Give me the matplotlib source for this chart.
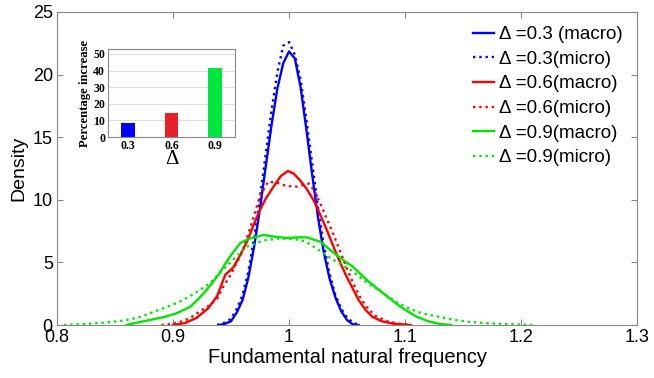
import matplotlib
matplotlib.use("Agg")
import matplotlib.pyplot as plt

plt.rcParams['font.family'] = ['Liberation Sans', 'DejaVu Sans']

# delta = 0.3
x_b_mac = [0.940, 0.945, 0.950, 0.955, 0.960, 0.965, 0.970, 0.975, 0.980, 0.985, 0.990, 0.995, 1.000,
           1.005, 1.010, 1.015, 1.020, 1.025, 1.030, 1.035, 1.040, 1.045, 1.050, 1.055, 1.060]
y_b_mac = [0.0, 0.1, 0.3, 1.0, 2.0, 3.8, 6.3, 9.3, 12.7, 16.0, 18.9, 20.9, 21.85,
           21.3, 19.0, 15.6, 12.0, 8.6, 5.8, 3.7, 2.2, 1.1, 0.4, 0.05, 0.0]
x_b_mic = [0.938, 0.945, 0.950, 0.955, 0.960, 0.965, 0.970, 0.975, 0.980, 0.985, 0.990, 0.995, 1.000,
           1.005, 1.010, 1.015, 1.020, 1.025, 1.030, 1.035, 1.040, 1.045, 1.050, 1.055, 1.060]
y_b_mic = [0.0, 0.2, 0.5, 1.3, 2.4, 4.3, 7.0, 10.2, 13.7, 17.2, 20.2, 22.3, 22.6,
           21.6, 19.6, 16.4, 12.9, 9.4, 6.4, 4.1, 2.4, 1.3, 0.6, 0.2, 0.0]

# delta = 0.6
x_r_mac = [0.900, 0.910, 0.920, 0.930, 0.938, 0.945, 0.952, 0.958, 0.964, 0.970, 0.975, 0.980, 0.987,
           0.993, 0.999, 1.004, 1.010, 1.015, 1.021, 1.027, 1.033, 1.039, 1.045, 1.050, 1.055, 1.060,
           1.066, 1.072, 1.080, 1.090, 1.105]
y_r_mac = [0.0, 0.15, 0.55, 1.3, 2.3, 4.0, 4.6, 5.6, 6.7, 8.1, 9.2, 10.1, 11.1,
           11.9, 12.3, 12.1, 11.5, 10.9, 10.0, 8.8, 7.5, 6.1, 4.8, 3.8, 2.9, 2.0,
           1.2, 0.65, 0.3, 0.1, 0.0]
x_r_mic = [0.890, 0.900, 0.910, 0.917, 0.925, 0.932, 0.938, 0.943, 0.949, 0.955, 0.960, 0.965, 0.970,
           0.975, 0.982, 0.990, 0.998, 1.007, 1.017, 1.022, 1.027, 1.033, 1.038, 1.044, 1.050, 1.056,
           1.062, 1.068, 1.075, 1.085, 1.095, 1.105]
y_r_mic = [0.0, 0.1, 0.35, 0.7, 1.2, 1.6, 2.1, 3.0, 3.9, 5.0, 5.9, 7.3, 8.8,
           10.3, 11.45, 11.35, 11.1, 11.05, 11.3, 10.7, 9.7, 8.4, 7.3, 5.9, 4.5, 3.2,
           2.1, 1.3, 0.7, 0.3, 0.1, 0.0]

# delta = 0.9
x_g_mac = [0.860, 0.866, 0.880, 0.893, 0.903, 0.915, 0.922, 0.929, 0.938, 0.949, 0.958, 0.966, 0.978,
           0.988, 0.998, 1.008, 1.0155, 1.027, 1.038, 1.048, 1.055, 1.067, 1.081, 1.096, 1.110, 1.120,
           1.130, 1.140]
y_g_mac = [0.0, 0.13, 0.4, 0.65, 0.93, 1.46, 2.1, 2.8, 3.86, 5.45, 6.55, 6.9, 7.19,
           7.05, 6.95, 7.0, 7.0, 6.65, 5.8, 5.1, 4.66, 3.6, 2.55, 1.46, 0.66, 0.3,
           0.08, 0.0]
x_g_mic = [0.806, 0.823, 0.840, 0.857, 0.870, 0.880, 0.895, 0.909, 0.920, 0.932, 0.945, 0.9635, 0.978,
           0.990, 1.000, 1.0095, 1.0155, 1.027, 1.040, 1.053, 1.067, 1.081, 1.093, 1.104, 1.114, 1.124,
           1.140, 1.153, 1.170, 1.182, 1.200, 1.210]
y_g_mic = [0.0, 0.08, 0.18, 0.34, 0.6, 0.93, 1.45, 2.0, 2.6, 3.35, 4.6, 6.25, 6.75,
           6.9, 6.9, 6.8, 6.6, 5.9, 5.1, 4.4, 3.4, 2.55, 1.8, 1.3, 0.95, 0.75,
           0.45, 0.27, 0.15, 0.1, 0.03, 0.0]

# inset bars
deltas = ['0.3', '0.6', '0.9']
pct_increase = [8.6, 14.6, 41.7]

blue = '#0000ff'
red = '#ff0000'
green = '#00e600'

fig = plt.figure(figsize=(6.54, 3.78), dpi=100)
ax = fig.add_axes([57 / 654, 53 / 378, 580 / 654, 313 / 378])

lw = 1.7
ax.plot(x_b_mac, y_b_mac, color=blue, lw=lw, label='Δ =0.3 (macro)')
ax.plot(x_b_mic, y_b_mic, color=blue, lw=lw, ls=':', label='Δ =0.3(micro)')
ax.plot(x_r_mac, y_r_mac, color=red, lw=lw, label='Δ =0.6(macro)')
ax.plot(x_r_mic, y_r_mic, color=red, lw=lw, ls=':', label='Δ =0.6(micro)')
ax.plot(x_g_mac, y_g_mac, color=green, lw=lw, label='Δ =0.9(macro)')
ax.plot(x_g_mic, y_g_mic, color=green, lw=lw, ls=':', label='Δ =0.9(micro)')

ax.set_xlim(0.8, 1.3)
ax.set_ylim(0, 25)
ax.set_xticks([0.8, 0.9, 1.0, 1.1, 1.2, 1.3])
ax.set_xticklabels(['0.8', '0.9', '1', '1.1', '1.2', '1.3'])
ax.set_yticks([0, 5, 10, 15, 20, 25])
ax.tick_params(direction='in', top=True, right=True, labelsize=13, length=4, color='#888888', pad=3)
for s in ax.spines.values():
    s.set_color('#888888')
ax.set_xlabel('Fundamental natural frequency', fontsize=14.5, labelpad=1)
ax.set_ylabel('Density', fontsize=14, labelpad=4)

leg = ax.legend(loc='upper right', frameon=False, fontsize=13.5, handlelength=1.1,
                handletextpad=0.3, labelspacing=0.4, borderaxespad=0.15, borderpad=0.6)

# inset
axi = fig.add_axes([108 / 654, (378 - 137) / 378, 127 / 654, 88 / 378])
axi.bar([1, 2, 3], pct_increase, width=0.31, color=['#0000ff', '#e8202a', '#00e640'], zorder=3)
axi.set_xlim(0.54, 3.46)
axi.set_ylim(0, 53)
axi.set_xticks([1, 2, 3])
axi.set_xticklabels(deltas)
axi.set_yticks([0, 10, 20, 30, 40, 50])
axi.yaxis.grid(True, color='#dddddd', lw=0.8, zorder=0)
axi.tick_params(length=0, labelsize=8.5, pad=2)
for lab in axi.get_xticklabels() + axi.get_yticklabels():
    lab.set_fontfamily('Liberation Serif')
    lab.set_fontweight('bold')
for s in axi.spines.values():
    s.set_color('#888888')
axi.set_ylabel('Percentage increase', fontsize=9.2, fontfamily='Liberation Serif',
               fontweight='bold', labelpad=2)
axi.set_xlabel('Δ', fontsize=15, fontfamily='Liberation Serif', labelpad=-1)

fig.savefig('out.png', dpi=100)
